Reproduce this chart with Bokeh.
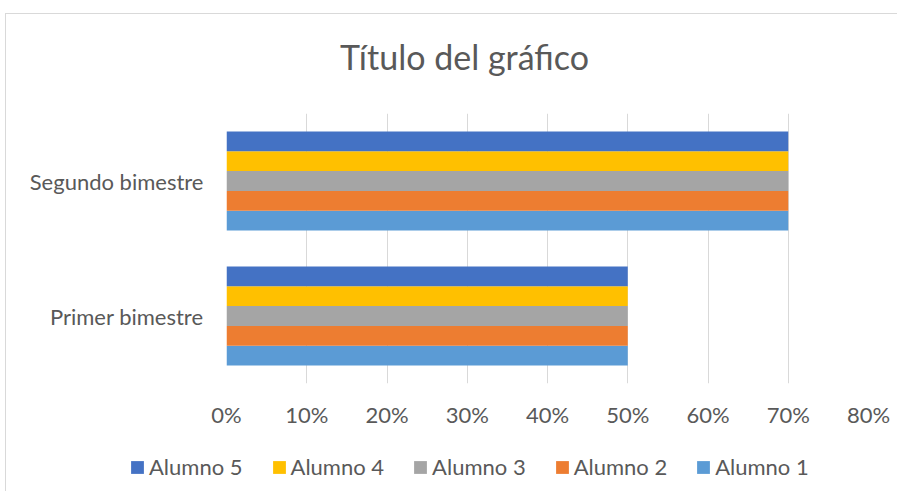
from bokeh.plotting import figure
from bokeh.layouts import column
from bokeh.models import (FactorRange, Range1d, Legend, LegendItem, Label,
                          NumeralTickFormatter, FixedTicker, ColumnDataSource)
from bokeh.transform import dodge
from bokeh.embed import file_html
from bokeh.resources import INLINE

# ---- data ----
periods = ["Primer bimestre", "Segundo bimestre"]
students = ["Alumno 1", "Alumno 2", "Alumno 3", "Alumno 4", "Alumno 5"]
alumno_1 = [0.50, 0.70]
alumno_2 = [0.50, 0.70]
alumno_3 = [0.50, 0.70]
alumno_4 = [0.50, 0.70]
alumno_5 = [0.50, 0.70]
series_values = [alumno_1, alumno_2, alumno_3, alumno_4, alumno_5]
colors = ["#5B9BD5", "#ED7D31", "#A5A5A5", "#FFC000", "#4472C4"]
x_ticks = [0, 0.1, 0.2, 0.3, 0.4, 0.5, 0.6, 0.7, 0.8]
title_text = "Título del gráfico"

FONT = "Lato"
TXT = "#595959"
W = 891


def bare(fig):
    fig.outline_line_color = None
    fig.background_fill_color = "white"
    fig.border_fill_color = "white"
    fig.xgrid.visible = False
    fig.ygrid.visible = False
    return fig


# ---- title strip ----
pt = figure(width=W, height=99, output_backend="svg", toolbar_location=None,
            x_range=Range1d(0, 1), y_range=Range1d(0, 1),
            x_axis_location=None, y_axis_location=None,
            min_border=0, min_border_left=0, min_border_right=0,
            min_border_top=0, min_border_bottom=0)
bare(pt)
pt.add_layout(Label(x=238, y=57, x_units="screen", y_units="screen", text=title_text,
                    text_align="center", text_baseline="alphabetic",
                    text_font=FONT, text_font_size="34px", text_color=TXT))

# ---- main chart ----
p = figure(width=W, height=327, output_backend="svg", toolbar_location=None,
           y_range=FactorRange(factors=periods), x_range=Range1d(0, 0.8),
           min_border_left=220, min_border_right=29,
           min_border_top=0, min_border_bottom=57)
p.outline_line_color = None
p.background_fill_color = "white"
p.border_fill_color = "white"

n = len(students)
gap = 1.82
bar_h = 1.0 / (n + gap)
for i, (name, vals, col) in enumerate(zip(students, series_values, colors)):
    src = ColumnDataSource(dict(period=periods, value=vals))
    off = (i - (n - 1) / 2) * bar_h
    p.hbar(y=dodge("period", off, range=p.y_range), left=0, right="value",
           height=bar_h, source=src, fill_color=col, line_color=None)

p.xaxis.ticker = FixedTicker(ticks=x_ticks)
p.xaxis.formatter = NumeralTickFormatter(format="0%")
for ax in (p.xaxis[0], p.yaxis[0]):
    ax.axis_line_color = None
    ax.major_tick_line_color = None
    ax.minor_tick_line_color = None
    ax.major_label_text_font = FONT
    ax.major_label_text_font_size = "22px"
    ax.major_label_text_color = TXT
p.xaxis.major_label_standoff = 11
p.yaxis.major_label_standoff = 17
p.xgrid.grid_line_color = "#D9D9D9"
p.ygrid.grid_line_color = None

# ---- legend strip (swatch glyphs sit outside the visible range) ----
pl = figure(width=W, height=51, output_backend="svg", toolbar_location=None,
            x_range=Range1d(0, 1), y_range=Range1d(0, 1),
            x_axis_location=None, y_axis_location=None,
            min_border=0, min_border_left=0, min_border_right=0,
            min_border_top=0, min_border_bottom=0)
bare(pl)
items = []
for name, col in reversed(list(zip(students, colors))):
    swatch = pl.hbar(y="y", left="l", right="r", height=0.1,
                     source=ColumnDataSource(dict(y=[-5], l=[0], r=[1])),
                     fill_color=col, line_color=None)
    items.append(LegendItem(label=name, renderers=[swatch]))
legend = Legend(items=items, orientation="horizontal", location=(123, 11),
                glyph_width=16, glyph_height=16, label_standoff=4, spacing=28,
                padding=0, margin=0, label_text_font=FONT, label_text_font_size="22px",
                label_text_color=TXT, background_fill_alpha=0, border_line_color=None,
                label_height=24)
pl.add_layout(legend, "center")

layout = column(column(pt, p, spacing=0), pl, spacing=0)
layout.styles = {"border-top": "1px solid #D9D9D9", "border-left": "1px solid #D9D9D9",
                 "margin-left": "5px", "margin-top": "13px"}

open("out.html", "w").write(file_html(layout, INLINE))
